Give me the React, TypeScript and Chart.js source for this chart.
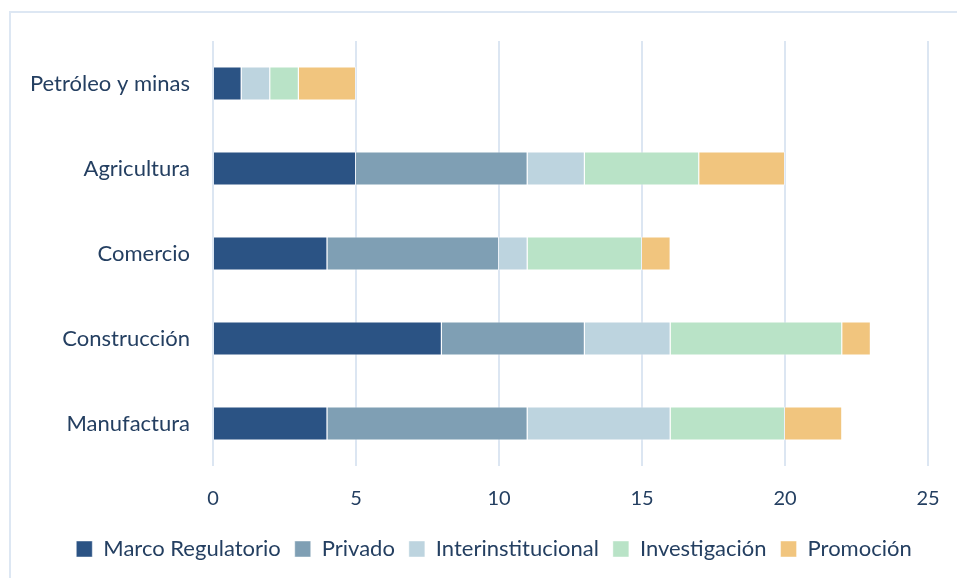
import React, { useEffect, useRef } from "react";
import { Chart, registerables } from "chart.js";

Chart.register(...registerables);

const categories = ["Petróleo y minas", "Agricultura", "Comercio", "Construcción", "Manufactura"];
const marcoRegulatorio = [1, 5, 4, 8, 4];
const privado = [0, 6, 6, 5, 7];
const interinstitucional = [1, 2, 1, 3, 5];
const investigacion = [1, 4, 4, 6, 4];
const promocion = [2, 3, 1, 1, 2];
const xTicks = [0, 5, 10, 15, 20, 25];

const seriesNames = ["Marco Regulatorio", "Privado", "Interinstitucional", "Investigación", "Promoción"];
const seriesData = [marcoRegulatorio, privado, interinstitucional, investigacion, promocion];
const seriesColors = ["#2b5384", "#7f9fb4", "#bdd4df", "#b9e3c7", "#f1c57e"];

const TEXT = "#243f61";
const FONT = "Lato, 'Open Sans', sans-serif";

const legendShift = {
  id: "legendShift",
  afterLayout(chart: any) {
    if (chart.legend) {
      chart.legend.left += 30;
      chart.legend.right += 30;
    }
  },
};

export default function App() {
  const ref = useRef<HTMLCanvasElement | null>(null);
  useEffect(() => {
    if (!ref.current) return;
    const chart = new Chart(ref.current, {
      type: "bar",
      data: {
        labels: categories,
        datasets: seriesNames.map((name, i) => ({
          label: name,
          data: seriesData[i],
          backgroundColor: seriesColors[i],
          borderColor: "rgba(255,255,255,0.45)",
          borderWidth: 1,
          barPercentage: 0.4,
          categoryPercentage: 1,
        })),
      },
      plugins: [legendShift],
      options: {
        indexAxis: "y",
        animation: false,
        responsive: false,
        maintainAspectRatio: false,
        layout: { padding: { top: 41, right: 29, left: 0, bottom: 8 } },
        plugins: {
          tooltip: { enabled: false },
          legend: {
            position: "bottom",
            labels: {
              color: TEXT,
              font: { family: FONT, size: 22 },
              boxWidth: 16,
              boxHeight: 16,
              padding: 14,
            },
          },
        },
        scales: {
          x: {
            stacked: true,
            min: 0,
            max: 25,
            afterBuildTicks: (scale: any) => {
              scale.ticks = xTicks.map((v) => ({ value: v }));
            },
            afterFit: (scale: any) => {
              scale.height = 58;
              scale.paddingLeft = 0;
              scale.paddingRight = 0;
            },
            grid: { color: "#dce6f2", lineWidth: 2, drawTicks: false },
            border: { display: false },
            ticks: { color: TEXT, font: { family: FONT, size: 20 }, padding: 21 },
          },
          y: {
            stacked: true,
            afterFit: (scale: any) => {
              scale.width = 213;
            },
            grid: { display: false },
            border: { display: false },
            ticks: { color: TEXT, font: { family: FONT, size: 22 }, padding: 15 },
          },
        },
      },
    });
    return () => chart.destroy();
  }, []);
  return (
    <div style={{ position: "fixed", left: 0, top: 0, width: 957, height: 578, overflow: "hidden", background: "#fff" }}>
      <div
        style={{
          position: "absolute",
          left: 9,
          top: 11,
          width: 1100,
          height: 800,
          border: "2px solid #dde7f3",
        }}
      />
      <canvas ref={ref} width={957} height={578} style={{ position: "absolute", left: 0, top: 0 }} />
    </div>
  );
}
